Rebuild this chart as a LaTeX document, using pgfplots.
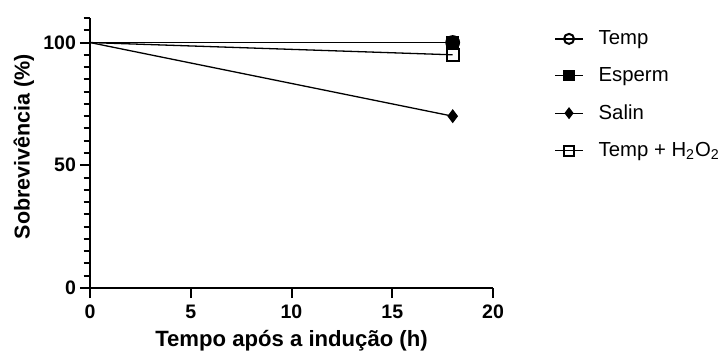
\documentclass[border=0pt]{standalone}
\usepackage{pgfplots}
\pgfplotsset{compat=1.18}
\usetikzlibrary{calc}
\usepackage{fontspec}
\setmainfont{Liberation Sans}

\begin{document}
\begin{tikzpicture}
\begin{axis}[
  scale only axis, width=201.5bp, height=135bp,
  xmin=0, xmax=20, ymin=0, ymax=110,
  axis x line*=bottom, axis y line*=left,
  xtick={0,5,10,15,20}, ytick={0,50,100},
  minor ytick={5,10,...,110},
  tick align=outside, major tick length=5bp, minor tick length=3.2bp,
  every tick/.style={black, line width=1bp},
  axis line style={line width=1bp},
  /pgf/number format/assume math mode=true,
  ticklabel style={font=\fontsize{9.8}{10}\selectfont\bfseries},
  yticklabel style={xshift=1.5bp},
  xlabel={Tempo após a indução (h)},
  ylabel={Sobrevivência (\%)},
  xlabel style={font=\fontsize{11.1}{12}\selectfont\bfseries, at={(axis description cs:0.5,-0.196)}, anchor=center},
  ylabel style={font=\fontsize{10.8}{12}\selectfont\bfseries, at={(axis description cs:-0.164,0.524)}, anchor=center},
  clip=false,
  legend cell align=left,
  legend style={draw=none, fill=none, at={(rel axis cs:1,1)}, anchor=north west,
    xshift=27.5bp, yshift=-2.5bp, font=\fontsize{10.2}{10}\selectfont, row sep=7bp,
    nodes={inner sep=1.5bp}},
  legend image code/.code={\draw[mark repeat=2,mark phase=2,#1] plot coordinates {(0bp,0bp) (7bp,0bp) (14bp,0bp)};},
  every legend image post/.style={mark size=2.5bp},
]
\addplot[black, line width=0.65bp, mark=o, mark indices={2}, mark size=3.2bp,
  mark options={fill=white, line width=1bp, solid}]
  coordinates {(0,100) (18,100)};
\addlegendentry{\hspace{6bp}Temp}
\addplot[black, line width=0.65bp, mark=square*, mark indices={2}, mark size=3bp,
  mark options={fill=black, solid}]
  coordinates {(0,100) (18,100)};
\addlegendentry{\hspace{6bp}Esperm}
\addplot[black, line width=0.65bp, mark=diamond*, mark indices={2}, mark size=3bp,
  mark options={fill=black, solid}]
  coordinates {(0,100) (18,70)};
\addlegendentry{\hspace{6bp}Salin}
\addplot[black, line width=0.65bp, mark=square, mark indices={2}, mark size=3bp,
  mark options={fill=white, line width=1bp, solid}]
  coordinates {(0,100) (18,95)};
\addlegendentry{\hspace{6bp}Temp + H\textsubscript{2}O\textsubscript{2}}
\coordinate (A) at (rel axis cs:0,0);
\coordinate (B) at (rel axis cs:1,1);
\end{axis}
\pgfresetboundingbox
\useasboundingbox ($(A)+(-45bp,-35bp)$) rectangle ($(B)+(117bp,9bp)$);
\end{tikzpicture}
\end{document}
